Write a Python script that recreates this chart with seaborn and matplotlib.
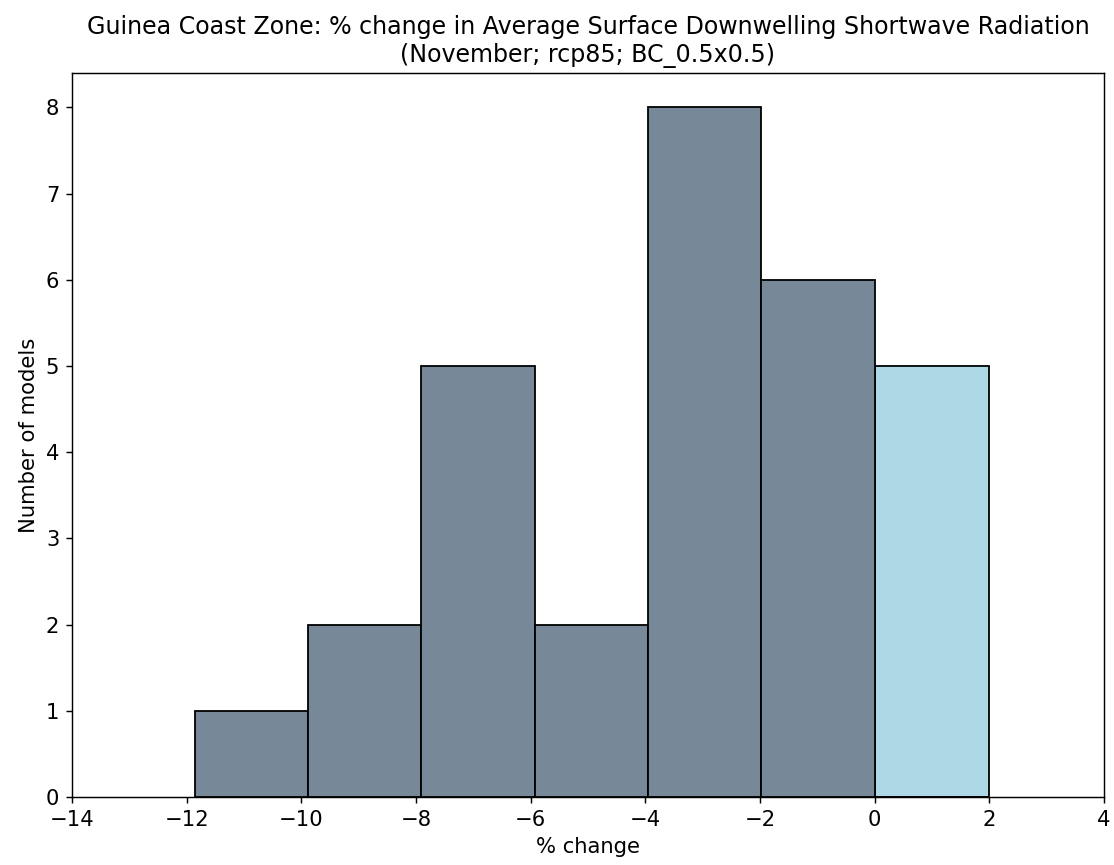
import numpy as np
import pandas as pd
import seaborn as sns
import matplotlib
matplotlib.use("Agg")
import matplotlib.pyplot as plt

# bin edges (% change) and model counts per bin
bin_edges = [-11.86, -9.88, -7.91, -5.93, -3.95, -1.98, 0.0, 2.0]
counts = [1, 2, 5, 2, 8, 6, 5]
sign = ["neg", "neg", "neg", "neg", "neg", "neg", "pos"]

title = ("Guinea Coast Zone: % change in Average Surface Downwelling Shortwave Radiation\n"
         "(November; rcp85; BC_0.5x0.5)")

plt.rcParams["font.size"] = 11.7

centers = [(a + b) / 2 for a, b in zip(bin_edges[:-1], bin_edges[1:])]
df = pd.DataFrame({"change": centers, "n": counts, "sign": sign})

fig, ax = plt.subplots(figsize=(1114 / 130, 865 / 130), dpi=130)
sns.histplot(data=df, x="change", weights="n", bins=bin_edges, hue="sign",
             palette={"neg": "lightslategray", "pos": "lightblue"},
             alpha=1, edgecolor="black", linewidth=1.0, legend=False, ax=ax)

ax.set_xlim(-14, 4)
ax.set_xticks(np.arange(-14, 5, 2))
ax.set_xlabel("% change")
ax.set_ylabel("Number of models")
ax.set_title(title, fontsize=13.2)

fig.subplots_adjust(left=72 / 1114, right=1104 / 1114, top=1 - 73 / 865, bottom=1 - 797 / 865)
fig.savefig("out.png", dpi=130)
